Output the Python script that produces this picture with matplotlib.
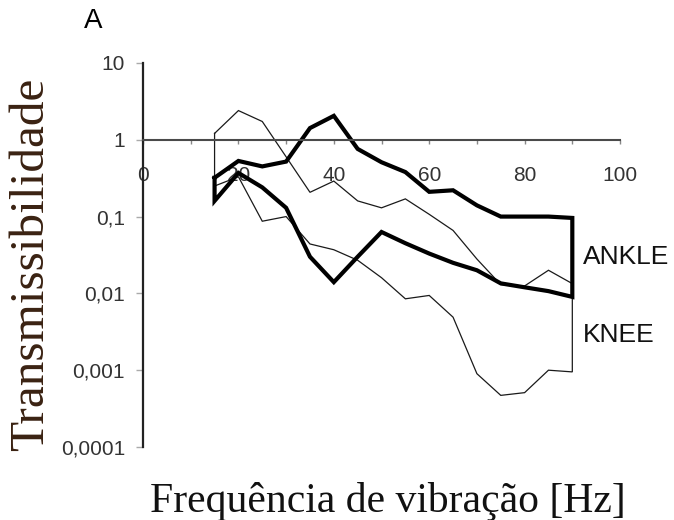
import matplotlib
matplotlib.use("Agg")
import matplotlib.pyplot as plt
from matplotlib.ticker import FixedLocator, FixedFormatter, MultipleLocator, NullLocator

# frequency points [Hz]
freq = [15, 20, 25, 30, 35, 40, 45, 50, 55, 60, 65, 70, 75, 80, 85, 90]

# ANKLE band (upper / lower limits)
ankle_hi = [0.32, 0.53, 0.45, 0.52, 1.42, 2.05, 0.76, 0.51, 0.38, 0.21, 0.22, 0.14, 0.10, 0.10, 0.10, 0.096]
ankle_lo = [0.16, 0.37, 0.24, 0.13, 0.030, 0.014, 0.030, 0.063, 0.045, 0.033, 0.025, 0.020, 0.0135, 0.012, 0.0107, 0.0090]

# KNEE band (upper / lower limits)
knee_hi = [1.21, 2.4, 1.73, 0.60, 0.207, 0.29, 0.16, 0.13, 0.17, 0.107, 0.066, 0.028, 0.013, 0.0125, 0.020, 0.0134]
knee_lo = [0.25, 0.33, 0.087, 0.10, 0.044, 0.037, 0.027, 0.016, 0.0085, 0.0094, 0.0049, 0.0009, 0.00047, 0.00051, 0.0010, 0.00095]

y_ticks  = [0.0001, 0.001, 0.01, 0.1, 1, 10]
y_labels = ["0,0001", "0,001", "0,01", "0,1", "1", "10"]
x_ticks  = [0, 20, 40, 60, 80, 100]


def band(x, hi, lo):
    # closed outline: upper edge, down at the end, lower edge back, close
    xs = list(x) + list(x[::-1]) + [x[0]]
    ys = list(hi) + list(lo[::-1]) + [hi[0]]
    return xs, ys


fig = plt.figure(figsize=(6.74, 5.2), dpi=100)
ax = fig.add_axes([0.2122, 0.1404, 0.7077, 0.7385])

ax.set_yscale("log")
ax.set_xlim(0, 100); ax.set_ylim(1e-4, 10)

xs, ys = band(freq, knee_hi, knee_lo)
ax.plot(xs, ys, color="#1a1a1a", linewidth=0.9, solid_joinstyle="miter")
xs, ys = band(freq, ankle_hi, ankle_lo)
ax.plot(xs, ys, color="black", linewidth=3.0, solid_joinstyle="miter")

# axes: x line sits on y = 1
for s in ["top", "right"]:
    ax.spines[s].set_visible(False)
ax.spines["bottom"].set_position(("data", 1))
ax.spines["bottom"].set_color("#4a4a4a"); ax.spines["bottom"].set_linewidth(1.5)
ax.spines["left"].set_color("#222222"); ax.spines["left"].set_linewidth(1.6)

ax.xaxis.set_major_locator(FixedLocator(x_ticks))
ax.xaxis.set_minor_locator(MultipleLocator(10))
ax.yaxis.set_major_locator(FixedLocator(y_ticks))
ax.yaxis.set_major_formatter(FixedFormatter(y_labels))
ax.yaxis.set_minor_locator(NullLocator())

tick_font = dict(family="Liberation Sans", size=15)
ax.tick_params(axis="x", which="both", direction="out", length=3, width=1, color="#888888",
               pad=16, labelcolor="#333333")
ax.tick_params(axis="y", which="major", direction="out", length=5, width=1, color="#aaaaaa",
               pad=8, labelcolor="#333333")
for lab in ax.get_xticklabels() + ax.get_yticklabels():
    lab.set_fontfamily(tick_font["family"]); lab.set_fontsize(tick_font["size"])

ax.text(92.2, 0.030, "ANKLE", fontsize=19, family="Liberation Sans", color="#111111", va="center")
ax.text(92.2, 0.0029, "KNEE", fontsize=19, family="Liberation Sans", color="#111111", va="center")

fig.text(93 / 674, 1 - 21 / 520, "A", fontsize=20, family="Liberation Sans", ha="center", va="center")
fig.text(388 / 674, 1 - 512 / 520, "Frequência de vibração [Hz]", fontsize=30,
         family="Liberation Serif", color="#111111", ha="center", va="baseline")
fig.text(31 / 674, 0.4923, "Transmissibilidade", fontsize=35.5, family="Liberation Serif",
         color="#3a2212", rotation=90, ha="center", va="center")

fig.savefig("out.png", dpi=100)
